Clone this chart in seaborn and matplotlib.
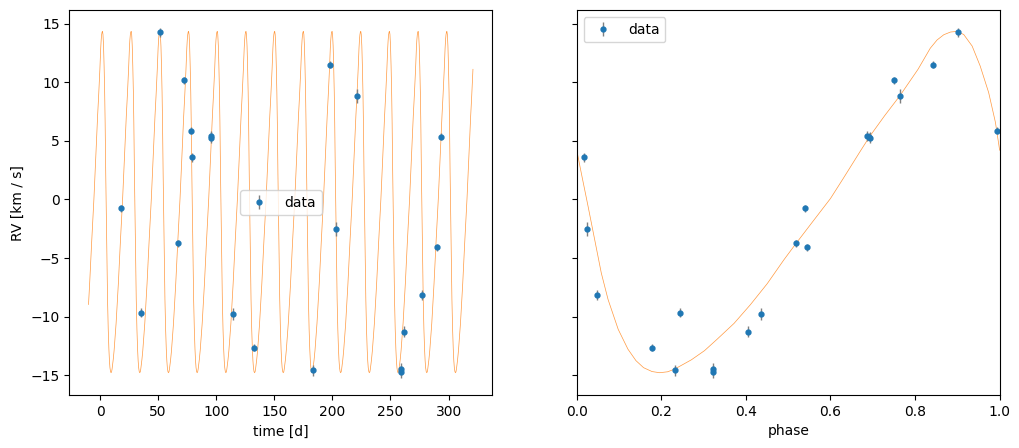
import numpy as np
import seaborn as sns
import matplotlib
matplotlib.use("Agg")
import matplotlib.pyplot as plt

time_d = [18.1, 35.3, 51.6, 66.9, 72.3, 78.3, 79.5, 95.5, 95.5, 114.5, 132.5,
          183.3, 197.9, 203.1, 221.2, 259.0, 259.0, 261.6, 277.1, 290.0, 293.5]
rv_kms = [-0.76, -9.66, 14.24, -3.73, 10.17, 5.87, 3.58, 5.40, 5.28, -9.75, -12.63,
          -14.58, 11.47, -2.49, 8.81, -14.45, -14.70, -11.27, -8.14, -4.07, 5.36]
rv_err = [0.3, 0.4, 0.4, 0.3, 0.3, 0.3, 0.4, 0.4, 0.5, 0.5, 0.3,
          0.5, 0.3, 0.6, 0.6, 0.5, 0.5, 0.5, 0.4, 0.3, 0.3]
phase_obs = [0.539, 0.245, 0.901, 0.518, 0.750, 0.993, 0.017, 0.687, 0.694, 0.436, 0.179,
             0.233, 0.842, 0.024, 0.764, 0.323, 0.323, 0.405, 0.048, 0.544, 0.690]

# fitted orbit, sampled off the phase-folded panel
model_phase = [0.000, 0.011, 0.027, 0.0425, 0.058, 0.074, 0.098, 0.121, 0.140, 0.158,
               0.178, 0.196, 0.215, 0.2315, 0.271, 0.302, 0.332, 0.372, 0.411, 0.4505,
               0.490, 0.519, 0.561, 0.600, 0.630, 0.669, 0.693, 0.728, 0.764, 0.807,
               0.836, 0.852, 0.868, 0.884, 0.899, 0.915, 0.935, 0.954, 0.974, 0.990,
               1.000]
model_rv = [4.2, 2.2, -0.63, -3.45, -6.27, -8.53, -11.08, -12.77, -13.75, -14.35,
            -14.68, -14.78, -14.7, -14.47, -13.68, -12.9, -11.92, -10.57, -8.96, -7.18,
            -5.14, -3.73, -1.75, 0.08, 1.78, 4.03, 5.39, 7.14, 8.84, 11.1,
            12.9, 13.6, 14.05, 14.28, 14.33, 14.07, 13.08, 11.38, 9.12, 6.58,
            4.2]
period = 24.7
t_ref = 4.65
t_start, t_end = -10.0, 321.0

# repeat the sampled orbit along the time axis
ph = np.array(model_phase[:-1])
rvm = np.array(model_rv[:-1])
t_model, rv_model = [], []
for k in range(-1, 14):
    t_model.extend(t_ref + (k + ph) * period)
    rv_model.extend(rvm)
t_model = np.array(t_model)
rv_model = np.array(rv_model)
keep = (t_model >= t_start) & (t_model <= t_end)

fig, (ax1, ax2) = plt.subplots(1, 2, figsize=(10.19, 4.48), dpi=100, sharey=True)
fig.subplots_adjust(left=0.068, right=0.981, bottom=0.118, top=0.977, wspace=0.2)

sns.lineplot(x=t_model[keep], y=rv_model[keep], ax=ax1, color="C1", lw=0.5,
             alpha=0.8, estimator=None, sort=False)
ax1.errorbar(time_d, rv_kms, yerr=rv_err, fmt="o", ms=3.5, color="C0",
             ecolor="gray", elinewidth=1, label="data")
ax1.set_xlabel("time [d]")
ax1.set_ylabel("RV [km / s]")
ax1.legend(loc="center")

sns.lineplot(x=model_phase, y=model_rv, ax=ax2, color="C1", lw=0.5,
             alpha=0.8, estimator=None, sort=False)
ax2.errorbar(phase_obs, rv_kms, yerr=rv_err, fmt="o", ms=3.5, color="C0",
             ecolor="gray", elinewidth=1, label="data")
ax2.set_xlim(0, 1)
ax2.set_xlabel("phase")
ax2.set_ylabel("RV [km / s]")
ax2.yaxis.set_tick_params(labelleft=False)
ax2.legend(loc="upper left")

fig.savefig("out.png", dpi=100)
